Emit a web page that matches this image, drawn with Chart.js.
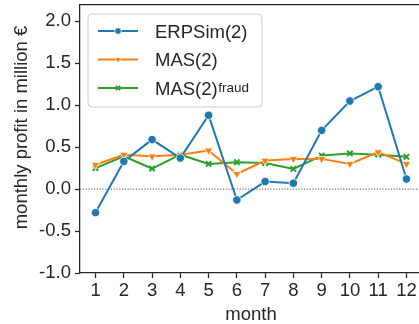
<!DOCTYPE html>
<html>
<head>
<meta charset="utf-8">
<script src="https://cdn.jsdelivr.net/npm/chart.js@4.4.1/dist/chart.umd.min.js"></script>
<style>
  html, body { margin: 0; padding: 0; background: #fff; }
  #wrap { width: 419px; height: 324px; overflow: hidden; }
</style>
</head>
<body>
<div id="wrap"><canvas id="chart" width="424" height="324"></canvas></div>
<script>
  const MONTHS = [1, 2, 3, 4, 5, 6, 7, 8, 9, 10, 11, 12];
  const ERPSIM = [-0.28, 0.33, 0.59, 0.37, 0.88, -0.13, 0.09, 0.07, 0.70, 1.05, 1.22, 0.12];
  const MAS = [0.29, 0.41, 0.39, 0.41, 0.46, 0.18, 0.34, 0.36, 0.36, 0.30, 0.44, 0.30];
  const MAS_FRAUD = [0.25, 0.39, 0.245, 0.41, 0.30, 0.32, 0.31, 0.24, 0.40, 0.425, 0.41, 0.385];

  const INK = "#262626";
  const FONT = "Liberation Sans, Arial, sans-serif";

  const points = (vals) => MONTHS.map((m, i) => ({ x: m, y: vals[i] }));

  // Dotted reference line at y = 0 across the whole plot area.
  const zeroLine = {
    id: "zeroLine",
    beforeDatasetsDraw(chart) {
      const { ctx, chartArea, scales } = chart;
      const y = scales.y.getPixelForValue(0);
      ctx.save();
      ctx.strokeStyle = "#555";
      ctx.lineWidth = 1;
      ctx.setLineDash([1.2, 1.6]);
      ctx.beginPath();
      ctx.moveTo(chartArea.left, y);
      ctx.lineTo(chartArea.right, y);
      ctx.stroke();
      ctx.restore();
    },
  };

  // Top spine plus the rotated y title (matplotlib puts it a bit above centre here).
  const frame = {
    id: "frame",
    afterDraw(chart) {
      const { ctx, chartArea } = chart;
      ctx.save();
      ctx.strokeStyle = INK;
      ctx.lineWidth = 1.25;
      ctx.beginPath();
      ctx.moveTo(chartArea.left, chartArea.top);
      ctx.lineTo(chartArea.right, chartArea.top);
      ctx.stroke();

      ctx.translate(22, 127.5);
      ctx.rotate(-Math.PI / 2);
      ctx.fillStyle = INK;
      ctx.font = `18.5px ${FONT}`;
      ctx.textAlign = "center";
      ctx.textBaseline = "middle";
      ctx.fillText("monthly profit in million €", 0, 0);
      ctx.restore();
    },
  };

  // Legend drawn by hand so the "fraud" superscript can be shown.
  const supLegend = {
    id: "supLegend",
    afterDraw(chart) {
      const { ctx, chartArea } = chart;
      const x0 = chartArea.left + 8;
      const y0 = chartArea.top + 9.5;
      const w = 174, h = 93, r = 4;
      ctx.save();
      ctx.fillStyle = "rgba(255,255,255,0.85)";
      ctx.strokeStyle = "#cccccc";
      ctx.lineWidth = 1;
      ctx.beginPath();
      ctx.roundRect(x0, y0, w, h, r);
      ctx.fill();
      ctx.stroke();

      chart.data.datasets.forEach((ds, i) => {
        const cy = y0 + 17 + i * 28.5;
        ctx.strokeStyle = ds.borderColor;
        ctx.lineWidth = 2;
        ctx.setLineDash([]);
        ctx.beginPath();
        ctx.moveTo(x0 + 10, cy);
        ctx.lineTo(x0 + 50, cy);
        ctx.stroke();

        ctx.fillStyle = ds.pointBackgroundColor;
        ctx.strokeStyle = ds.pointBorderColor;
        ctx.lineWidth = ds.pointBorderWidth;
        Chart.helpers.drawPoint(ctx, {
          pointStyle: ds.pointStyle,
          rotation: ds.pointRotation || 0,
          radius: ds.pointRadius * 0.8,
          borderWidth: ds.pointBorderWidth,
        }, x0 + 30, cy);

        ctx.fillStyle = INK;
        ctx.textAlign = "left";
        ctx.textBaseline = "alphabetic";
        ctx.font = `18.5px ${FONT}`;
        const base = cy + 6.6;
        ctx.fillText(ds.label, x0 + 67, base);
        if (ds.supLabel) {
          const tw = ctx.measureText(ds.label).width;
          ctx.font = `13.5px ${FONT}`;
          ctx.fillText(ds.supLabel, x0 + 67 + tw + 0.5, base - 2.5);
        }
      });
      ctx.restore();
    },
  };

  new Chart(document.getElementById("chart"), {
    type: "line",
    data: {
      datasets: [
        {
          label: "ERPSim(2)",
          data: points(ERPSIM),
          borderColor: "#1f77b4",
          borderWidth: 2,
          pointStyle: "circle",
          pointRadius: 4.2,
          pointBackgroundColor: "#1f77b4",
          pointBorderColor: "#ffffff",
          pointBorderWidth: 0.8,
        },
        {
          label: "MAS(2)",
          data: points(MAS),
          borderColor: "#ff7f0e",
          borderWidth: 2,
          pointStyle: "triangle",
          pointRotation: 180,
          pointRadius: 4.8,
          pointBackgroundColor: "#ff7f0e",
          pointBorderColor: "#ffffff",
          pointBorderWidth: 0.8,
        },
        {
          label: "MAS(2)",
          supLabel: "fraud",
          data: points(MAS_FRAUD),
          borderColor: "#2ca02c",
          borderWidth: 2,
          pointStyle: "crossRot",
          pointRadius: 3.8,
          pointBackgroundColor: "#2ca02c",
          pointBorderColor: "#2ca02c",
          pointBorderWidth: 2,
        },
      ],
    },
    options: {
      responsive: false,
      animation: false,
      events: [],
      layout: { autoPadding: false, padding: { left: 0, top: 4.5, right: 2, bottom: 0 } },
      plugins: {
        legend: { display: false },
        tooltip: { enabled: false },
      },
      scales: {
        x: {
          type: "linear",
          min: 0.45,
          max: 12.55,
          afterFit: (s) => { s.height = 51; s.paddingLeft = 0; s.paddingRight = 0; },
          border: { display: true, color: INK, width: 1.25 },
          grid: { drawOnChartArea: false, tickLength: 5, tickColor: INK, tickWidth: 1.25 },
          ticks: {
            stepSize: 1,
            includeBounds: false,
            autoSkip: false,
            maxRotation: 0,
            padding: 2,
            color: INK,
            font: { family: FONT, size: 18.5 },
          },
          title: {
            display: true,
            text: "month",
            color: INK,
            padding: 0,
            font: { family: FONT, size: 18.5, lineHeight: 1 },
          },
        },
        y: {
          min: -1,
          max: 2.2,
          afterFit: (s) => { s.width = 80; s.paddingTop = 0; s.paddingBottom = 0; },
          border: { display: true, color: INK, width: 1.25 },
          grid: { drawOnChartArea: false, tickLength: 5, tickColor: INK, tickWidth: 1.25 },
          ticks: {
            stepSize: 0.5,
            includeBounds: false,
            padding: 4,
            color: INK,
            font: { family: FONT, size: 18.5 },
            callback: (v) => v.toFixed(1),
          },
        },
      },
    },
    plugins: [zeroLine, frame, supLegend],
  });
</script>
</body>
</html>
